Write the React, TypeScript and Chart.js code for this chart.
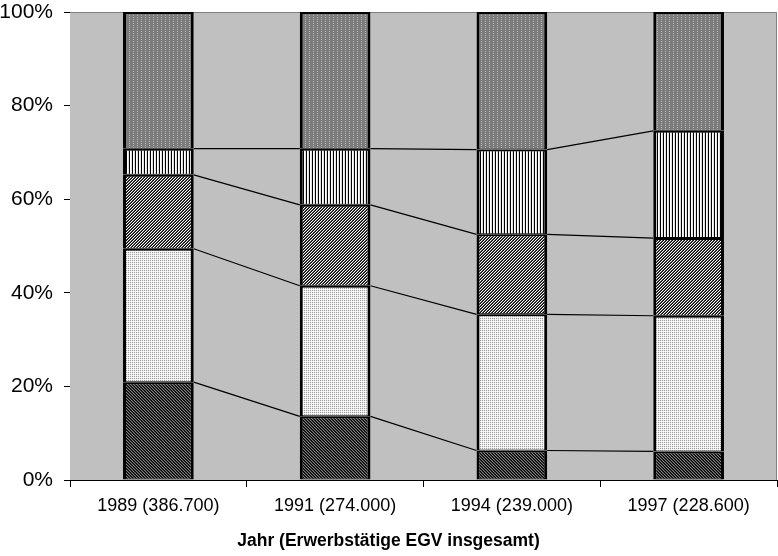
import React, { useEffect, useRef } from "react";
import { Chart, registerables } from "chart.js";
Chart.register(...registerables);

const categories = ["1989 (386.700)", "1991 (274.000)", "1994 (239.000)", "1997 (228.600)"];
const series1 = [20.9, 13.6, 6.3, 6.1];
const series2 = [28.5, 27.9, 29.1, 29.0];
const series3 = [15.8, 17.3, 17.1, 16.6];
const series4 = [5.6, 12.0, 18.1, 22.9];
const series5 = [29.2, 29.2, 29.4, 25.4];
const yMax = 100;
const yStep = 20;
const xTitle = "Jahr (Erwerbstätige EGV insgesamt)";

function makePattern(size: number, fn: (x: number, y: number) => string): CanvasPattern | string {
  const c = document.createElement("canvas");
  c.width = size;
  c.height = size;
  const ctx = c.getContext("2d");
  if (!ctx) return "#888";
  for (let y = 0; y < size; y++) {
    for (let x = 0; x < size; x++) {
      ctx.fillStyle = fn(x, y);
      ctx.fillRect(x, y, 1, 1);
    }
  }
  const p = ctx.createPattern(c, "repeat");
  return p || "#888";
}

export default function App() {
  const ref = useRef<HTMLCanvasElement | null>(null);
  useEffect(() => {
    if (!ref.current) return;
    const d1 = ["#000000", "#808080", "#303030"];
    const p1 = makePattern(6, (x, y) => d1[(x - y + 12) % 3]);
    const p2 = makePattern(2, (x, y) => (x % 2 === 0 && y % 2 === 0 ? "#a0a0a0" : (x + y) % 2 === 1 ? "#ececec" : "#ffffff"));
    const d3 = ["#000000", "#ffffff", "#505050"];
    const p3 = makePattern(6, (x, y) => d3[(x + y) % 3]);
    const p4 = makePattern(3, (x) => (x % 3 === 0 ? "#000000" : x % 3 === 1 ? "#ffffff" : "#e0e0e0"));
    const p5 = makePattern(4, (x, y) => (x % 4 === 1 && y % 2 === 1 ? "#b4b4b4" : "#7c7c7c"));

    const bgPlugin = {
      id: "bg",
      beforeDatasetsDraw(chart: any) {
        const { ctx, chartArea } = chart;
        const { left, right, top, bottom } = chartArea;
        ctx.save();
        ctx.fillStyle = "#c0c0c0";
        ctx.fillRect(left, top, right - left, bottom - top);
        ctx.strokeStyle = "#808080";
        ctx.lineWidth = 1;
        ctx.beginPath();
        ctx.moveTo(left, top + 0.5);
        ctx.lineTo(right - 0.5, top + 0.5);
        ctx.lineTo(right - 0.5, bottom);
        ctx.stroke();
        const yScale = chart.scales.y;
        ctx.strokeStyle = "#000000";
        ctx.lineWidth = 1.2;
        const n = chart.data.labels.length;
        for (let k = 0; k < chart.data.datasets.length - 1; k++) {
          const meta = chart.getDatasetMeta(k);
          const cum: number[] = [];
          for (let i = 0; i < n; i++) {
            let s = 0;
            for (let d = 0; d <= k; d++) s += chart.data.datasets[d].data[i];
            cum.push(s);
          }
          for (let i = 0; i < n - 1; i++) {
            const a = meta.data[i];
            const b = meta.data[i + 1];
            ctx.beginPath();
            ctx.moveTo(a.x + a.width / 2, yScale.getPixelForValue(cum[i]));
            ctx.lineTo(b.x - b.width / 2, yScale.getPixelForValue(cum[i + 1]));
            ctx.stroke();
          }
        }
        ctx.restore();
      },
    };

    const mk = (data: number[], bg: any) => ({
      data,
      backgroundColor: bg,
      borderColor: "#000000",
      borderWidth: { left: 3, right: 3, top: 2, bottom: 1 },
      borderSkipped: false,
      barPercentage: 0.4,
      categoryPercentage: 1,
    });

    const chart = new Chart(ref.current, {
      type: "bar",
      data: {
        labels: categories,
        datasets: [mk(series1, p1), mk(series2, p2), mk(series3, p3), mk(series4, p4), mk(series5, p5)],
      },
      options: {
        animation: false,
        responsive: false,
        devicePixelRatio: 1,
        layout: { padding: { top: 12, right: 1, left: 0, bottom: 4 } },
        plugins: {
          legend: { display: false },
          tooltip: { enabled: false },
          title: {
            display: true,
            position: "bottom",
            text: xTitle,
            color: "#000000",
            font: { family: "Liberation Sans", size: 17.5, weight: "bold", lineHeight: 1.2 },
            padding: 0,
          },
        },
        scales: {
          x: {
            stacked: true,
            border: { display: true, color: "#000000", width: 1 },
            grid: { display: true, drawOnChartArea: false, drawTicks: true, tickLength: 7, color: "#000000", offset: true },
            ticks: { color: "#000000", font: { family: "Liberation Sans", size: 18, lineHeight: 1 }, padding: 10, maxRotation: 0 },
            afterFit(scale: any) {
              scale.height = 51;
            },
          },
          y: {
            stacked: true,
            min: 0,
            max: yMax,
            border: { display: true, color: "#000000", width: 1 },
            grid: { display: true, drawOnChartArea: false, drawTicks: true, tickLength: 6, color: "#000000" },
            ticks: {
              stepSize: yStep,
              color: "#000000",
              font: { family: "Liberation Sans", size: 21, lineHeight: 1 },
              padding: 11,
              callback: (v: any) => v + "%",
            },
            afterFit(scale: any) {
              scale.width = 70;
              scale.paddingTop = 0;
              scale.paddingBottom = 0;
            },
          },
        },
      },
      plugins: [bgPlugin],
    } as any);
    return () => chart.destroy();
  }, []);
  return (
    <div style={{ position: "absolute", left: 0, top: 0, width: 778, height: 556 }}>
      <canvas ref={ref} width={778} height={556} />
    </div>
  );
}
